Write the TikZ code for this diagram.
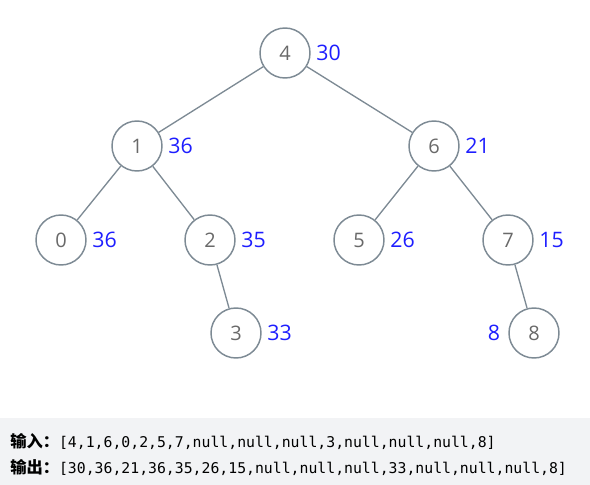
\documentclass[tikz,border=0pt]{standalone}
\usepackage{fontspec}
\setmainfont{Open Sans}
\setmonofont{DejaVu Sans Mono}
\newfontfamily\cjk{Noto Sans CJK SC}
\usetikzlibrary{positioning}
\definecolor{nodeline}{RGB}{125,138,148}
\definecolor{sumblue}{RGB}{30,30,255}
\definecolor{panelbg}{RGB}{242,243,245}
\definecolor{digitgray}{RGB}{105,105,105}

\begin{document}
\begin{tikzpicture}[
    x=0.75pt, y=-0.75pt,
    treenode/.style={circle, draw=nodeline, line width=1.1pt, minimum size=37.5pt,
                inner sep=0pt, text=digitgray, font=\fontsize{15}{18}\selectfont},
    sumlabel/.style={text=sumblue, inner sep=0pt, font=\fontsize{16}{19}\selectfont},
    edge/.style={draw=nodeline, line width=1pt}
]
\useasboundingbox (0,0) rectangle (590,485);
\fill[panelbg] (0,418) rectangle (590,485);
% tree
\node[treenode] (n4) at (285,53)  {4};
\node[treenode] (n1) at (137,146) {1};
\node[treenode] (n6) at (434,146) {6};
\node[treenode] (n0) at (61,240)  {0};
\node[treenode] (n2) at (210,240) {2};
\node[treenode] (n5) at (359,240) {5};
\node[treenode] (n7) at (508,240) {7};
\node[treenode] (n3) at (236,333) {3};
\node[treenode] (n8) at (534,333) {8};
\draw[edge] (n4) -- (n1);
\draw[edge] (n4) -- (n6);
\draw[edge] (n1) -- (n0);
\draw[edge] (n1) -- (n2);
\draw[edge] (n2) -- (n3);
\draw[edge] (n6) -- (n5);
\draw[edge] (n6) -- (n7);
\draw[edge] (n7) -- (n8);
% accumulated sums
\node[sumlabel, right=4pt of n4] (s4) {30};
\node[sumlabel, right=4pt of n1] (s1) {36};
\node[sumlabel, right=4pt of n6] (s6) {21};
\node[sumlabel, right=4pt of n0] (s0) {36};
\node[sumlabel, right=4pt of n2] (s2) {35};
\node[sumlabel, right=4pt of n5] (s5) {26};
\node[sumlabel, right=4pt of n7] (s7) {15};
\node[sumlabel, right=4pt of n3] (s3) {33};
\node[sumlabel, left=6pt of n8]  (s8) {8};
% input / output
\node[anchor=west, inner sep=0pt, font=\fontsize{11.1}{13}\selectfont] (in) at (10,442)
    {{\cjk\bfseries\fontsize{12.2}{14}\selectfont 输入：}\texttt{[4,1,6,0,2,5,7,null,null,null,3,null,null,null,8]}};
\node[anchor=west, inner sep=0pt, font=\fontsize{11.1}{13}\selectfont] (out) at (10,468)
    {{\cjk\bfseries\fontsize{12.2}{14}\selectfont 输出：}\texttt{[30,36,21,36,35,26,15,null,null,null,33,null,null,null,8]}};
\end{tikzpicture}
\end{document}
